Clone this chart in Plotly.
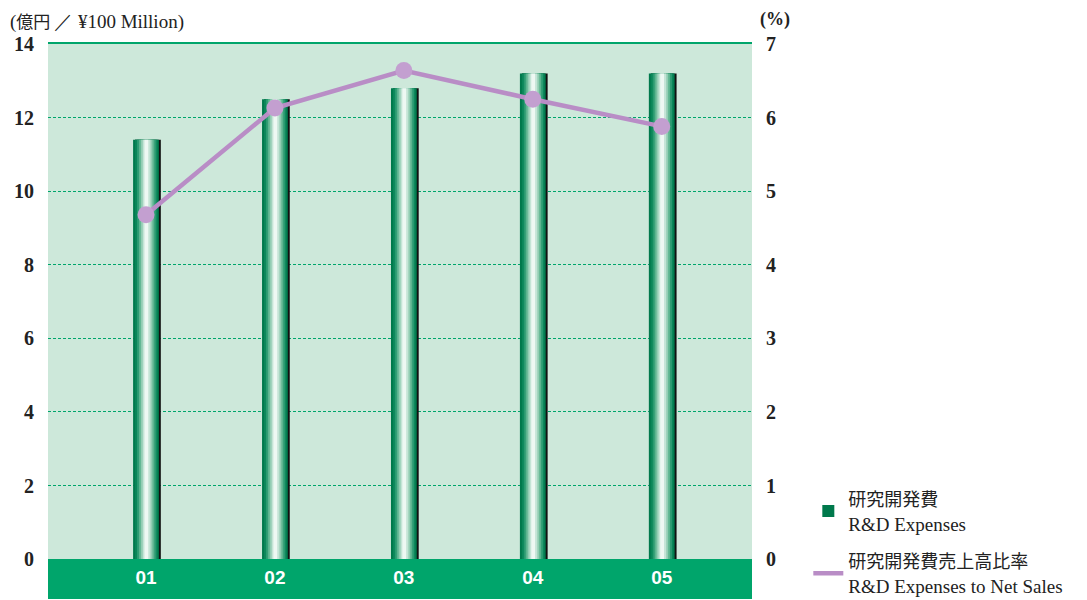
import plotly.graph_objects as go

categories = ["01", "02", "03", "04", "05"]
rd_expenses = [11.4, 12.5, 12.8, 13.2, 13.2]          # 億円 (¥100 million)
rd_ratio = [4.68, 6.13, 6.64, 6.25, 5.88]             # %
left_ticks = [0, 2, 4, 6, 8, 10, 12, 14]
right_ticks = [0, 1, 2, 3, 4, 5, 6, 7]

xpos = list(range(len(categories)))

BAND = "#00a56b"
BG = "#cde8da"
LINE = "#b98dc6"
SERIF = "Liberation Serif"
JP = "Noto Sans CJK JP"


def jp(s, size=None):
    sz = f";font-size:{size}px" if size else ""
    return f"<span style='font-family:{JP}{sz}'>{s}</span>"


def en(s):
    return f"<span style='font-family:{SERIF}'>{s}</span>"


fig = go.Figure()

# gradient layers for the bars: (offset, width, color)
layers = [
    (-0.085, 0.2, "#111111"),   # shadow on right
    (-0.1, 0.2, "#00794c"),
    (-0.085, 0.175, "#0a8659"),
    (-0.07, 0.15, "#2a9a70"),
    (-0.055, 0.12, "#5cb48f"),
    (-0.04, 0.09, "#92cdb3"),
    (-0.025, 0.06, "#c4e4d6"),
    (-0.012, 0.03, "#eef8f3"),
]
for i, (off, w, col) in enumerate(layers):
    fig.add_trace(go.Bar(
        x=xpos, y=rd_expenses, width=w, offset=off,
        marker=dict(color=col, line=dict(width=0)),
        name=jp("研究開発費", 18) + "<br>" + en("R&amp;D Expenses"),
        showlegend=(i == 1), legendgroup="bar",
        hoverinfo=None if i == 1 else "skip",
        yaxis="y",
    ))

ratio_name = jp("研究開発費売上高比率", 18) + "<br>" + en("R&amp;D Expenses to Net Sales")
fig.add_trace(go.Scatter(
    x=xpos, y=rd_ratio, mode="lines", yaxis="y2",
    line=dict(color=LINE, width=4.5),
    name=ratio_name, legendgroup="ratio",
))
fig.add_trace(go.Scatter(
    x=xpos, y=rd_ratio, mode="markers", yaxis="y2",
    marker=dict(size=17, color="#c39fd0", line=dict(width=0)),
    name=ratio_name, legendgroup="ratio", showlegend=False,
))

# green band below zero
fig.add_shape(type="rect", xref="paper", yref="y", x0=0, x1=1, y0=-1.03, y1=0,
              fillcolor=BAND, line=dict(width=0), layer="below")

fig.update_layout(
    width=1079, height=592,
    margin=dict(l=40, r=335, t=36, b=3, autoexpand=False),
    paper_bgcolor="white", plot_bgcolor=BG,
    barmode="overlay",
    font=dict(family=SERIF, size=16, color="#222"),
    showlegend=True,
    legend=dict(x=1.08, y=0.212, xanchor="left", yanchor="top",
                font=dict(family=SERIF, size=19, color="#222"),
                tracegroupgap=10, bgcolor="rgba(0,0,0,0)", itemwidth=30),
    xaxis=dict(
        range=[-0.76, 4.7], tickmode="array", tickvals=xpos, ticktext=categories,
        ticklabelposition="inside", ticks="inside", ticklen=10, tickcolor=BAND,
        tickfont=dict(family="Liberation Sans Narrow, Liberation Sans", size=19,
                      color="white", weight="bold"),
        showgrid=False, zeroline=False, showline=True, mirror=True,
        linecolor=BAND, linewidth=2, automargin=False,
    ),
    yaxis=dict(
        range=[-1.03, 14], tickvals=left_ticks, ticktext=[str(v) for v in left_ticks],
        tickfont=dict(family=SERIF, size=20, color="#222", weight="bold"),
        showgrid=True, gridcolor="#00a56b", griddash="3px,2px", gridwidth=1,
        zeroline=False, ticks="", ticklabelstandoff=13, automargin=False,
    ),
    yaxis2=dict(
        range=[-0.515, 7], tickvals=right_ticks, ticktext=[str(v) for v in right_ticks],
        overlaying="y", side="right", showgrid=False, zeroline=False,
        tickfont=dict(family=SERIF, size=20, color="#222", weight="bold"),
        ticks="", ticklabelstandoff=13, automargin=False,
    ),
    annotations=[
        dict(text="(" + jp("億円 ", 17) + en("／ ¥100 Million)"),
             xref="paper", yref="paper", x=-0.057, y=1.0, yshift=24,
             xanchor="left", yanchor="middle", showarrow=False,
             font=dict(family=SERIF, size=19, color="#222")),
        dict(text="<b>(%)</b>", xref="paper", yref="paper", x=1.0, y=1.0, yshift=25,
             xshift=23, xanchor="center", yanchor="middle", showarrow=False,
             font=dict(family=SERIF, size=18, color="#222")),
    ],
)

fig.write_html("out.html")
